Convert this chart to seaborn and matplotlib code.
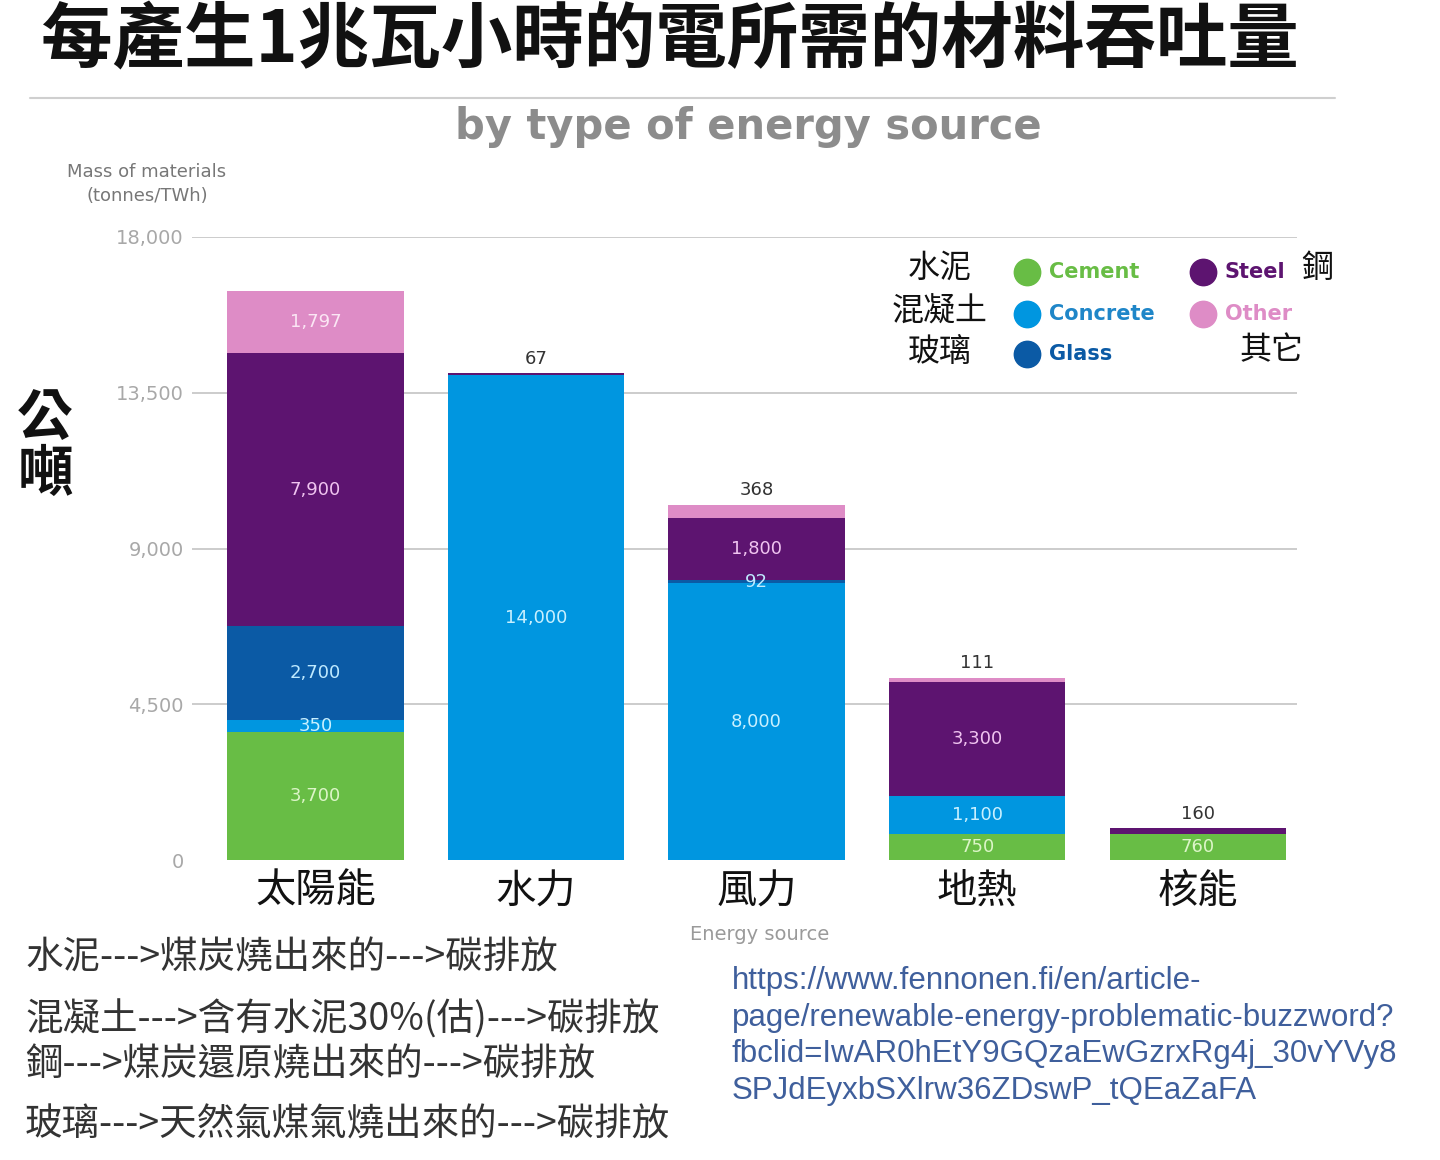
import numpy as np
import pandas as pd
import matplotlib
matplotlib.use('Agg')
import matplotlib.pyplot as plt
from matplotlib.lines import Line2D
import seaborn as sns

# tonnes of material per TWh
sources = ['太陽能', '水力', '風力', '地熱', '核能']
cement = [3700, 0, 0, 750, 760]
concrete = [350, 14000, 8000, 1100, 0]
glass = [2700, 0, 92, 0, 0]
steel = [7900, 67, 1800, 3300, 160]
other = [1797, 0, 368, 111, 0]

materials = ['Cement', 'Concrete', 'Glass', 'Steel', 'Other']
materials_zh = ['水泥', '混凝土', '玻璃', '鋼', '其它']
yticks = [0, 4500, 9000, 13500, 18000]

notes = [
    '水泥--->煤炭燒出來的--->碳排放',
    '混凝土--->含有水泥30%(估)--->碳排放',
    '鋼--->煤炭還原燒出來的--->碳排放',
    '玻璃--->天然氣煤氣燒出來的--->碳排放',
]
url = ('https://www.fennonen.fi/en/article-\n'
       'page/renewable-energy-problematic-buzzword?\n'
       'fbclid=IwAR0hEtY9GQzaEwGzrxRg4j_30vYVy8\n'
       'SPJdEyxbSXlrw36ZDswP_tQEaZaFA')

colors = {
    'Cement': '#68bd45',
    'Concrete': '#0096e0',
    'Glass': '#0b5aa5',
    'Steel': '#5d1470',
    'Other': '#de8cc6',
}
text_colors = {
    'Cement': '#68bd45',
    'Concrete': '#1f86c8',
    'Glass': '#0b5aa5',
    'Steel': '#5d1470',
    'Other': '#de8cc6',
}
inner_colors = {
    'Cement': '#dcf5c8',
    'Concrete': '#c8f0ff',
    'Glass': '#bfeaff',
    'Steel': '#f0c4f0',
    'Other': '#fbe6f4',
}

sns.set_theme(style='white')
plt.rcParams['font.family'] = ['Noto Sans CJK TC', 'DejaVu Sans']

df = pd.DataFrame(
    {'source': sources, 'Cement': cement, 'Concrete': concrete,
     'Glass': glass, 'Steel': steel, 'Other': other}
)
cum = df[materials].cumsum(axis=1)

W, H = 1440, 1160
fig = plt.figure(figsize=(W / 100, H / 100), dpi=100)
ax = fig.add_axes([192 / W, 1 - 860 / H, (1297 - 192) / W, (860 - 237) / H])

# stacked bars: draw cumulative totals from the top layer down
for m in reversed(materials):
    sns.barplot(
        x=df['source'], y=cum[m], color=colors[m], width=0.8,
        saturation=1, linewidth=0, ax=ax, order=sources
    )

ax.set_ylim(0, 18000)
ax.set_xlim(-0.56, 4.45)
ax.set_yticks(yticks)
ax.set_yticklabels([f'{t:,}' for t in yticks], fontsize=14, color='#a8a8a8',
                   family='DejaVu Sans')
ax.yaxis.grid(True, color='#c4c4c4', lw=1.2)
ax.yaxis.get_gridlines()[0].set_visible(False)
ax.set_axisbelow(True)
ax.tick_params(axis='y', length=0, pad=6)
ax.tick_params(axis='x', length=0, pad=8)
for lab in ax.get_xticklabels():
    lab.set_fontsize(29)
    lab.set_color('#111111')
for s in ax.spines.values():
    s.set_visible(False)
ax.set_ylabel('')
ax.set_xlabel('Energy source', fontsize=14, color='#9a9a9a', family='DejaVu Sans')
ax.xaxis.set_label_coords(0.514, -0.104)

# segment labels
for i in range(len(sources)):
    vals = df.loc[i, materials].values
    nz = [k for k, v in enumerate(vals) if v > 0]
    top = nz[-1]
    base = 0
    for k, m in enumerate(materials):
        v = vals[k]
        if v <= 0:
            continue
        if k == top and v < 400:
            ax.annotate(f'{v:,}', (i, base + v), xytext=(0, 4),
                        textcoords='offset points', ha='center', va='bottom',
                        fontsize=13, color='#333333', family='DejaVu Sans')
        else:
            ax.text(i, base + v / 2, f'{v:,}', ha='center', va='center',
                    fontsize=13, color=inner_colors[m], family='DejaVu Sans')
        base += v

# legend, placed by hand with the Chinese names next to it
rows_y = [272, 314, 354, 272, 314]
mark_x = [1027, 1027, 1027, 1203, 1203]
for m, zh, ry, mx in zip(materials, materials_zh, rows_y, mark_x):
    fig.add_artist(Line2D([mx / W], [1 - ry / H], marker='o', ms=19,
                          color=colors[m], ls=''))
    fig.text((mx + 22) / W, 1 - ry / H, m, fontsize=15, fontweight='bold',
             color=text_colors[m], ha='left', va='center', family='DejaVu Sans')
zh_pos = [(940, 268), (940, 312), (940, 352), (1317, 268), (1272, 350)]
for zh, (zx, zy) in zip(materials_zh, zh_pos):
    fig.text(zx / W, 1 - zy / H, zh, fontsize=23, color='#111111',
             ha='center', va='center')

# titles
fig.text(670 / W, 1 - 42 / H, '每產生1兆瓦小時的電所需的材料吞吐量', fontsize=51.5,
         fontweight='bold', color='#111111', ha='center', va='center')
fig.add_artist(Line2D([30 / W, 1335 / W], [1 - 98 / H, 1 - 98 / H],
                      color='#cfcfcf', lw=1.5))
fig.text(748 / W, 1 - 127 / H, 'by type of energy source', fontsize=30,
         fontweight='bold', color='#8c8c8c', ha='center', va='center',
         family='DejaVu Sans')
fig.text(147 / W, 1 - 184 / H, 'Mass of materials\n(tonnes/TWh)', fontsize=13,
         color='#777777', ha='center', va='center', linespacing=1.4,
         family='DejaVu Sans')
fig.text(45 / W, 1 - 447 / H, '公\n噸', fontsize=40, fontweight='bold',
         color='#111111', ha='center', va='center', linespacing=1.0)

# notes below the chart
for txt, ny in zip(notes, [958, 1020, 1065, 1125]):
    fig.text(25 / W, 1 - ny / H, txt, fontsize=27, color='#333333',
             ha='left', va='center')
fig.text(732 / W, 1 - 1036 / H, url, fontsize=22.5, color='#3f5f9c',
         ha='left', va='center', linespacing=1.3, family='Liberation Sans')

fig.savefig('out.png', dpi=100)
